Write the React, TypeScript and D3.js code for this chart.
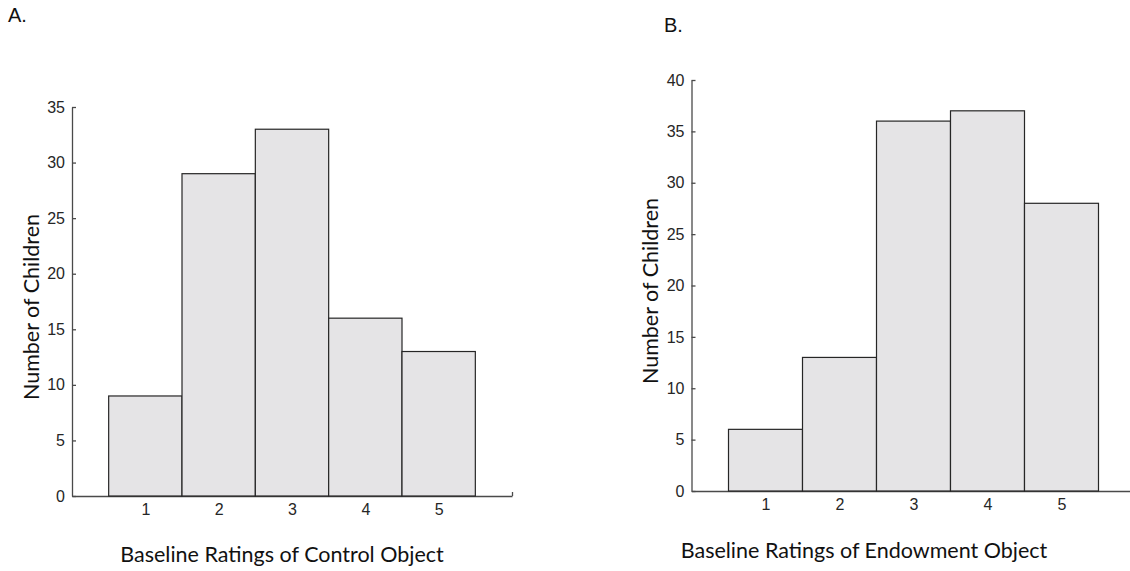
import React, { useEffect, useRef } from 'react';
import * as d3 from 'd3';

const width = 1130;
const height = 571;

const ratings = [1, 2, 3, 4, 5];
const controlCounts = [9, 29, 33, 16, 13];
const endowmentCounts = [6, 13, 36, 37, 28];
const controlTicks = [0, 5, 10, 15, 20, 25, 30, 35];
const endowmentTicks = [0, 5, 10, 15, 20, 25, 30, 35, 40];

const barFill = '#e5e4e6';
const barStroke = '#262626';
const axisColor = '#4a4a4a';
const tickFont = '"Liberation Sans", Arial, sans-serif';
const titleFont = 'Lato, "Open Sans", sans-serif';

type PanelProps = {
  label: string;
  labelPos: [number, number];
  counts: number[];
  yTicks: number[];
  yMax: number;
  xRange: [number, number];
  yRange: [number, number];
  xTitle: string;
  xTitlePos: [number, number];
  yTitlePos: [number, number];
};

function Panel(props: PanelProps) {
  const { counts, yTicks, yMax, xRange, yRange } = props;
  const xAxisRef = useRef<SVGGElement>(null);
  const yAxisRef = useRef<SVGGElement>(null);

  // x is the rating value, bars are centred on 1..5
  const xScale = d3.scaleLinear().domain([0, 6]).range(xRange);
  const yScale = d3.scaleLinear().domain([0, yMax]).range(yRange);

  useEffect(() => {
    const xAxis = d3
      .axisBottom(xScale)
      .tickValues([...ratings, 6])
      .tickFormat((d) => (+d === 6 ? '' : `${d}`))
      .tickSizeInner(-4)
      .tickSizeOuter(0)
      .tickPadding(8);
    const yAxis = d3
      .axisLeft(yScale)
      .tickValues(yTicks)
      .tickFormat((d) => `${d}`)
      .tickSizeInner(-4)
      .tickSizeOuter(0)
      .tickPadding(7);

    const gx = d3.select(xAxisRef.current!).call(xAxis);
    const gy = d3.select(yAxisRef.current!).call(yAxis);
    [gx, gy].forEach((g) => {
      g.attr('font-size', 16).attr('font-family', tickFont);
      g.selectAll('path, line').attr('stroke', axisColor).attr('stroke-width', 1.3);
      g.selectAll('text').attr('fill', '#262626');
    });
  }, []);

  const barW = xScale(1) - xScale(0);

  return (
    <g>
      <text
        x={props.labelPos[0]}
        y={props.labelPos[1]}
        fontFamily={tickFont}
        fontSize={20}
        fill="#111"
      >
        {props.label}
      </text>
      <g ref={xAxisRef} transform={`translate(0, ${yRange[0]})`} />
      <g ref={yAxisRef} transform={`translate(${xRange[0]}, 0)`} />
      {counts.map((c, i) => (
        <rect
          key={i}
          x={xScale(ratings[i]) - barW / 2}
          y={yScale(c)}
          width={barW}
          height={yScale(0) - yScale(c)}
          fill={barFill}
          stroke={barStroke}
          strokeWidth={1.2}
        />
      ))}
      <text
        x={props.xTitlePos[0]}
        y={props.xTitlePos[1]}
        textAnchor="middle"
        fontFamily={titleFont}
        fontSize={21.5}
        fill="#111"
      >
        {props.xTitle}
      </text>
      <text
        transform={`translate(${props.yTitlePos[0]}, ${props.yTitlePos[1]}) rotate(-90)`}
        textAnchor="middle"
        fontFamily={titleFont}
        fontSize={21.5}
        fill="#111"
      >
        Number of Children
      </text>
    </g>
  );
}

export default function App() {
  return (
    <svg
      width={width}
      height={height}
      style={{ position: 'absolute', left: 0, top: 0, background: '#fff' }}
    >
      <Panel
        label="A."
        labelPos={[8, 22]}
        counts={controlCounts}
        yTicks={controlTicks}
        yMax={35}
        xRange={[72, 512]}
        yRange={[496, 107]}
        xTitle="Baseline Ratings of Control Object"
        xTitlePos={[282, 562]}
        yTitlePos={[39, 307]}
      />
      <Panel
        label="B."
        labelPos={[664, 32]}
        counts={endowmentCounts}
        yTicks={endowmentTicks}
        yMax={40}
        xRange={[691.5, 1135.5]}
        yRange={[491, 80]}
        xTitle="Baseline Ratings of Endowment Object"
        xTitlePos={[864, 558]}
        yTitlePos={[658, 291]}
      />
    </svg>
  );
}
